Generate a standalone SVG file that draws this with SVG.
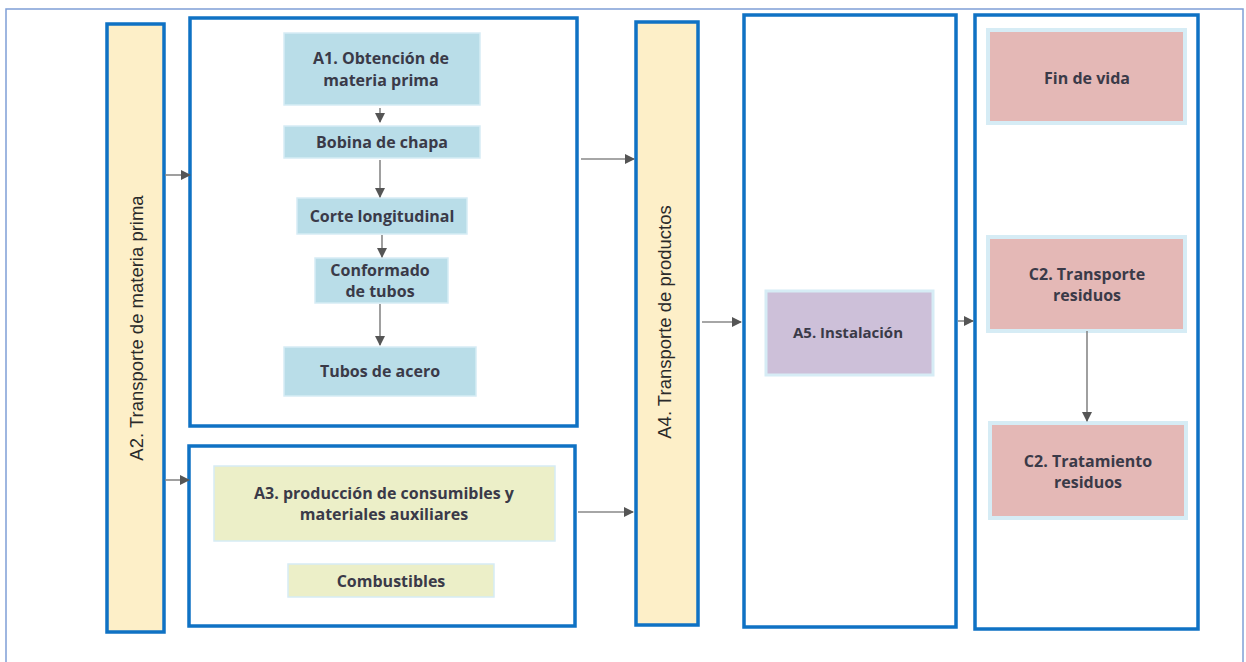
<svg xmlns="http://www.w3.org/2000/svg" width="1246" height="662" viewBox="0 0 1246 662">
<defs>
<marker id="ah" markerWidth="10" markerHeight="10" refX="9" refY="5" orient="auto" markerUnits="userSpaceOnUse">
<path d="M0,0 L10,5 L0,10 Z" fill="#555"/>
</marker>
<style>
.frame{fill:#fff;stroke:#7f9fd6;stroke-width:1.5}
.cont{fill:#fff;stroke:#0f72c4;stroke-width:3.5}
.bar{fill:#fdefc8;stroke:#0f72c4;stroke-width:3.5}
.blue{fill:#b9dde8;stroke:#d6ecf5;stroke-width:1.5}
.green{fill:#ecefc8;stroke:#d6ecf5;stroke-width:1.5}
.purple{fill:#cdc0d9;stroke:#d6ecf5;stroke-width:3}
.pink{fill:#e4b8b6;stroke:#d6ecf5;stroke-width:4}
.t{font-family:"Open Sans","Liberation Sans",sans-serif;font-weight:700;font-size:16px;fill:#3a3a48;text-anchor:middle}
.v{font-family:"Liberation Sans",Arial,sans-serif;font-size:18.5px;fill:#2a2a2a;text-anchor:middle}
.c{stroke:#888;stroke-width:1.6;fill:none;marker-end:url(#ah)}
</style>
</defs>
<rect class="frame" x="6" y="9" width="1237" height="670"/>
<g id="A2"><rect class="bar" x="107" y="24" width="57" height="608"/><text class="v" transform="translate(143,328) rotate(-90)">A2. Transporte de materia prima</text></g>
<g id="A1group"><rect class="cont" x="190" y="18" width="387" height="408"/></g>
<g id="A1"><rect class="blue" x="284" y="33" width="196" height="72"/><text class="t" x="381" y="64">A1. Obtención de</text><text class="t" x="381" y="86">materia prima</text></g>
<g id="bobina"><rect class="blue" x="284" y="126" width="196" height="32"/><text class="t" x="382" y="148">Bobina de chapa</text></g>
<g id="corte"><rect class="blue" x="297" y="198" width="170" height="36"/><text class="t" x="382" y="222">Corte longitudinal</text></g>
<g id="conformado"><rect class="blue" x="315" y="258" width="133" height="45"/><text class="t" x="380" y="276">Conformado</text><text class="t" x="380" y="297">de tubos</text></g>
<g id="tubos"><rect class="blue" x="284" y="347" width="192" height="49"/><text class="t" x="380" y="377">Tubos de acero</text></g>
<g id="A3group"><rect class="cont" x="189" y="446" width="386" height="180"/></g>
<g id="A3"><rect class="green" x="214" y="466" width="341" height="75"/><text class="t" x="384" y="499">A3. producción de consumibles y</text><text class="t" x="384" y="520">materiales auxiliares</text></g>
<g id="combustibles"><rect class="green" x="288" y="564" width="206" height="33"/><text class="t" x="391" y="587">Combustibles</text></g>
<g id="A4"><rect class="bar" x="636" y="22" width="62" height="603"/><text class="v" transform="translate(671,322) rotate(-90)">A4. Transporte de productos</text></g>
<g id="A5group"><rect class="cont" x="744" y="15" width="212" height="612"/></g>
<g id="A5"><rect class="purple" x="766" y="291" width="167" height="84"/><text class="t" x="848" y="338" style="font-size:15px">A5. Instalación</text></g>
<g id="Cgroup"><rect class="cont" x="975" y="15" width="223" height="614"/></g>
<g id="findevida"><rect class="pink" x="988" y="30" width="197" height="93"/><text class="t" x="1087" y="84">Fin de vida</text></g>
<g id="C2transporte"><rect class="pink" x="988" y="237" width="197" height="94"/><text class="t" x="1087" y="280">C2. Transporte</text><text class="t" x="1087" y="301">residuos</text></g>
<g id="C2tratamiento"><rect class="pink" x="990" y="423" width="196" height="95"/><text class="t" x="1088" y="467">C2. Tratamiento</text><text class="t" x="1088" y="488">residuos</text></g>
<g id="connectors">
<path class="c" d="M380,108 V122"/>
<path class="c" d="M380,160 V197"/>
<path class="c" d="M382,235 V257"/>
<path class="c" d="M380,304 V345"/>
<path class="c" d="M165,175 H190"/>
<path class="c" d="M165,480 H189"/>
<path class="c" d="M581,159 H634"/>
<path class="c" d="M578,512 H633"/>
<path class="c" d="M702,322 H741"/>
<path class="c" d="M958,321 H973"/>
<path class="c" d="M1087,331 V421"/>
</g>
</svg>
